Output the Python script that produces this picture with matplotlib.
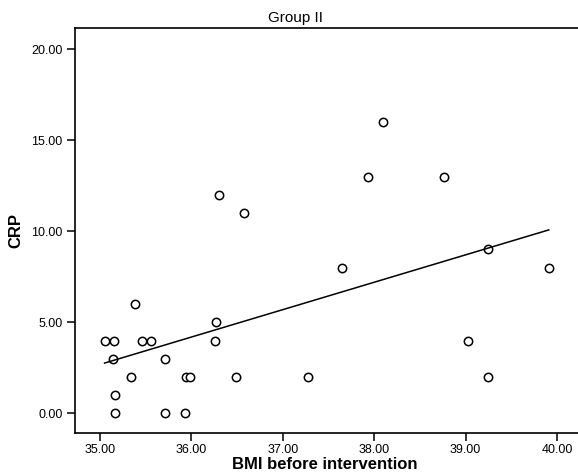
import matplotlib.pyplot as plt
import numpy as np

# BMI before intervention vs CRP, group II
bmi = [35.38, 36.27, 35.05, 35.15, 35.46, 35.56, 36.26, 35.14, 35.71,
       35.34, 35.94, 35.99, 36.49, 35.16, 35.16, 35.71, 35.93,
       38.10, 37.93, 36.30, 36.58, 38.76, 39.24, 39.91, 39.03, 39.25,
       37.65, 37.28]
crp = [6, 5, 4, 4, 4, 4, 4, 3, 3,
       2, 2, 2, 2, 1, 0, 0, 0,
       16, 13, 12, 11, 13, 9, 8, 4, 2,
       8, 2]

x_ticks = [35, 36, 37, 38, 39, 40]
y_ticks = [0, 5, 10, 15, 20]

plt.rcParams['font.family'] = ['Liberation Sans', 'DejaVu Sans']

fig = plt.figure(figsize=(5.78, 4.73), dpi=100)
ax = fig.add_axes([0.1292, 0.0852, 0.8708, 0.8562])

ax.plot(bmi, crp, linestyle='none', marker='o', markersize=6,
        markerfacecolor='white', markeredgecolor='black', markeredgewidth=1.1)

# linear fit line
slope, icpt = np.polyfit(bmi, crp, 1)
xs = np.array([min(bmi), max(bmi)])
ax.plot(xs, icpt + slope * xs, color='black', linewidth=1.1)

ax.set_xlim(34.723, 40.23)
ax.set_ylim(-1.06, 21.17)
ax.set_xticks(x_ticks)
ax.set_yticks(y_ticks)
ax.set_xticklabels(["%.2f" % v for v in x_ticks])
ax.set_yticklabels(["%.2f" % v for v in y_ticks])
ax.tick_params(direction='out', length=6, width=1.1, labelsize=9)
ax.tick_params(axis='y', pad=2.7)
ax.tick_params(axis='x', pad=2)

for s in ['left', 'bottom', 'top']:
    ax.spines[s].set_linewidth(1.2)
ax.spines['right'].set_visible(False)

fig.text(296 / 578, 1 - 18 / 473, "Group II", ha='center', va='center', fontsize=11)
fig.text(325 / 578, 1 - 464 / 473, "BMI before intervention", ha='center', va='center',
         fontsize=12, fontweight='bold')
fig.text(16 / 578, 1 - 230 / 473, "CRP", ha='center', va='center', rotation=90,
         fontsize=12, fontweight='bold')

plt.savefig("out.png", dpi=100)
